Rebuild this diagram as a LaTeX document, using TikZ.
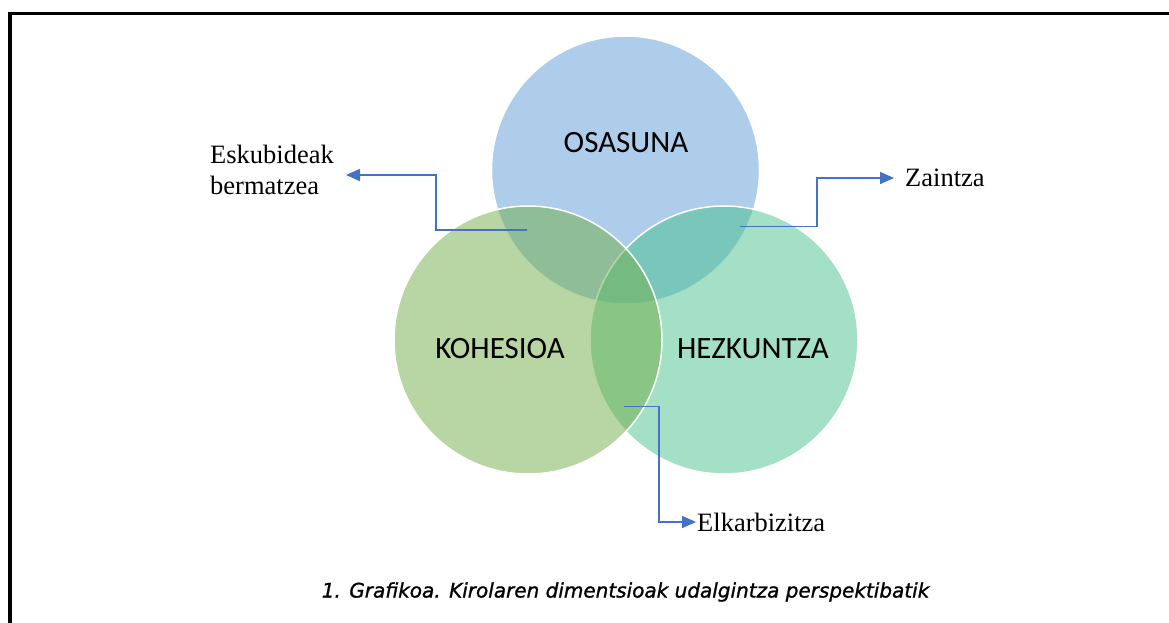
\documentclass[tikz,border=0pt]{standalone}
\usepackage{fontspec}
\setmainfont{Liberation Serif}
\newfontfamily\calfont{Carlito}
\newfontfamily\capfont[FakeBold=1.2]{DejaVu Sans}
\usetikzlibrary{arrows.meta}
\definecolor{cblue}{HTML}{5B9BD5}
\definecolor{cgreen}{HTML}{70AD47}
\definecolor{cteal}{HTML}{47C18D}
\definecolor{arrowblue}{HTML}{4472C4}
\tikzset{
  venn/.style={circle, minimum size=268pt, inner sep=0pt, draw=white, line width=1.5pt, fill opacity=0.5},
  vennlabel/.style={inner sep=0pt, font=\calfont\fontsize{31}{36}\selectfont, text=black},
  sidelabel/.style={inner sep=0pt, font=\fontsize{26.5}{31}\selectfont, text=black},
  conn/.style={draw=arrowblue, line width=1.6pt, -{Triangle[length=14pt,width=12pt]}},
  frame/.style={draw=black, line width=3.5pt}
}
\begin{document}
\begin{tikzpicture}[x=1pt, y=-1pt]
\useasboundingbox (0,0) rectangle (1169,623);
% frame
\coordinate (fbl) at (10,623);
\coordinate (ftl) at (10,13.5);
\coordinate (ftr) at (1169,13.5);
\draw[frame] (fbl) -- (ftl) -- (ftr);
% circles
\node[venn, fill=cblue] (osasuna) at (625.5,170) {};
\node[venn, fill=cteal] (hezkuntza) at (724,340) {};
\node[venn, fill=cgreen] (kohesioa) at (528,340) {};
% circle labels
\node[vennlabel] (tosasuna) at (626,143) {OSASUNA};
\node[vennlabel] (tkohesioa) at (500,349) {KOHESIOA};
\node[vennlabel] (thezkuntza) at (753,349) {HEZKUNTZA};
% side labels
\node[sidelabel, anchor=north west, align=left] (eskubideak) at (210,145) {Eskubideak\\bermatzea};
\node[sidelabel, anchor=west] (zaintza) at (905,178) {Zaintza};
\node[sidelabel, anchor=west] (elkarbizitza) at (697,522) {Elkarbizitza};
% connectors
\coordinate (s1) at (527,230);
\coordinate (b1) at (436,175);
\coordinate (t1) at (346,175);
\draw[conn] (s1) -| (b1) -- (t1);
\coordinate (s2) at (740,226.5);
\coordinate (b2) at (817,178);
\coordinate (t2) at (894,178);
\draw[conn] (s2) -| (b2) -- (t2);
\coordinate (s3) at (624,406.5);
\coordinate (b3) at (659,522);
\coordinate (t3) at (696,522);
\draw[conn] (s3) -| (b3) -- (t3);
% caption
\node[inner sep=0pt, font=\capfont\itshape\fontsize{20}{24}\selectfont] (caption) at (625.5,592) {1. Grafikoa. Kirolaren dimentsioak udalgintza perspektibatik};
\end{tikzpicture}
\end{document}
